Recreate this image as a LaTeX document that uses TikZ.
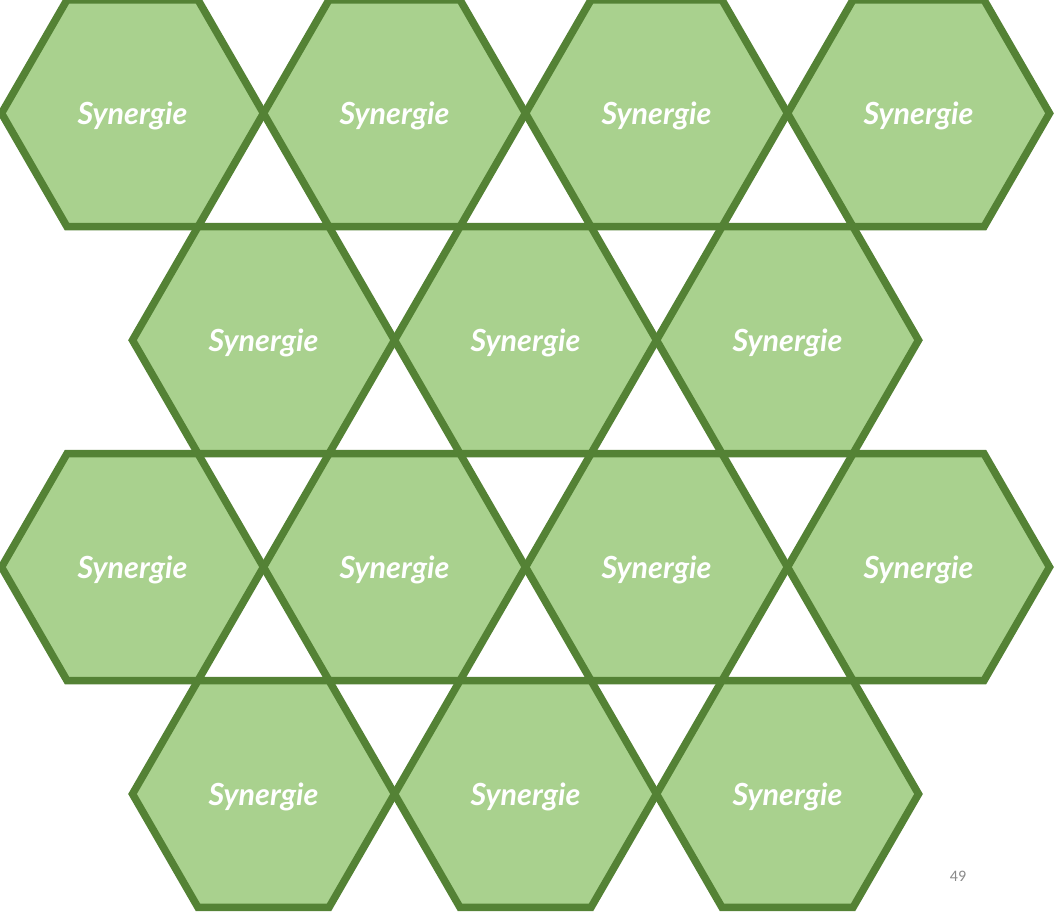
\documentclass[tikz,border=0pt]{standalone}
\usepackage{fontspec}
\usetikzlibrary{shapes.geometric}
\newfontfamily\synfont{Lato}
\newfontfamily\numfont{Carlito}
\definecolor{hxF}{RGB}{169,209,142}
\definecolor{hxD}{RGB}{84,130,53}
\definecolor{pgN}{RGB}{137,137,137}
\newcommand{\HX}{262}
\newcommand{\HY}{226.9}
\newcommand{\HR}{131}

\begin{document}
\begin{tikzpicture}[
    x=1pt, y=1pt,
    hex/.style={regular polygon, regular polygon sides=6, draw=hxD, fill=hxF,
                line width=7.5pt, minimum size={2*\HR pt}, inner sep=0pt},
    lbl/.style={text=white, font=\synfont\bfseries\itshape\fontsize{30.5}{32}\selectfont},
    pnum/.style={text=pgN, font=\numfont\fontsize{16}{18}\selectfont},
  ]
  \useasboundingbox (0,0) rectangle (1059,917);

  % rows 1 and 3: four cells, rows 2 and 4: three cells shifted by half a step
  \foreach \r/\yy in {1/803.7, 3/349.9} {
    \foreach \c in {0,...,3} {
      \node[hex] (h\r\c) at ({132.5+\c*\HX},\yy) {};
      \node[lbl] (t\r\c) at ([yshift=-3pt]h\r\c.center) {Synergie};
    }}
  \foreach \r/\yy in {2/576.8, 4/123.0} {
    \foreach \c in {0,...,2} {
      \node[hex] (h\r\c) at ({263.5+\c*\HX},\yy) {};
      \node[lbl] (t\r\c) at ([yshift=-3pt]h\r\c.center) {Synergie};
    }}

  % slide number
  \node[pnum] (page) at (958,41) {49};

\end{tikzpicture}
\end{document}
